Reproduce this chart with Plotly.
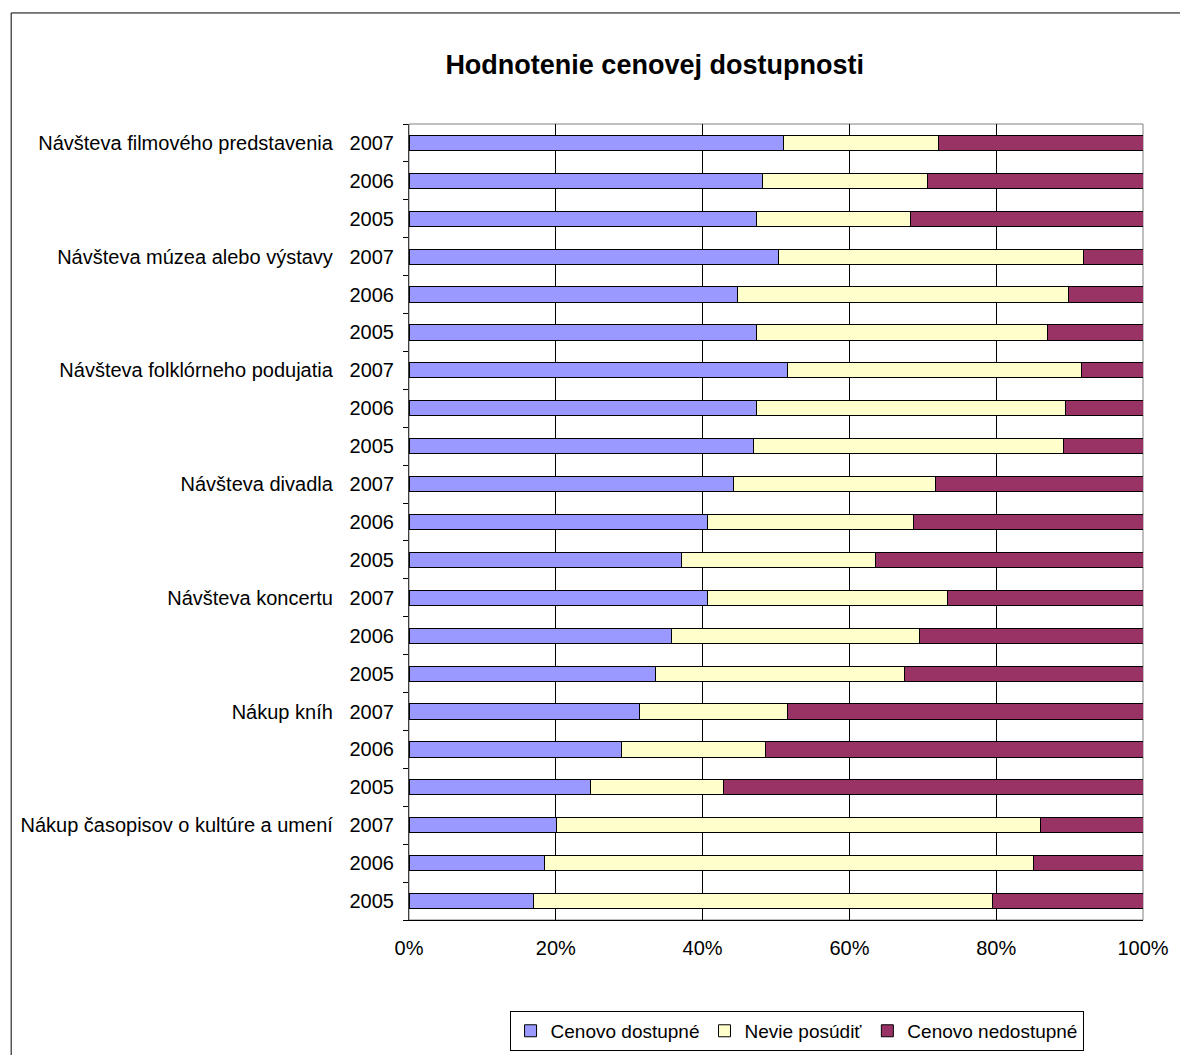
import plotly.graph_objects as go

# categories (top to bottom) and years shown per category
categories = [
    "Návšteva filmového predstavenia",
    "Návšteva múzea alebo výstavy",
    "Návšteva folklórneho podujatia",
    "Návšteva divadla",
    "Návšteva koncertu",
    "Nákup kníh",
    "Nákup časopisov o kultúre a umení",
]
years = ["2007", "2006", "2005"]

# shares in %, one value per row (category x year, top to bottom)
dostupne = [51.0, 48.1, 47.4, 50.3, 44.7, 47.4, 51.5, 47.4, 46.9,
            44.2, 40.7, 37.1, 40.7, 35.8, 33.6, 31.4, 29.0, 24.7,
            20.1, 18.4, 16.9]
nevie = [21.2, 22.6, 20.9, 41.6, 45.2, 39.6, 40.1, 42.0, 42.3,
         27.5, 28.1, 26.5, 32.7, 33.7, 33.9, 20.1, 19.6, 18.2,
         65.9, 66.7, 62.6]
nedostupne = [27.8, 29.3, 31.7, 8.1, 10.1, 13.0, 8.4, 10.6, 10.8,
              28.3, 31.2, 36.4, 26.6, 30.5, 32.5, 48.5, 51.4, 57.1,
              14.0, 14.9, 20.5]

x_ticks = [0, 20, 40, 60, 80, 100]
x_labels = ["0%", "20%", "40%", "60%", "80%", "100%"]

series = [
    ("Cenovo dostupné", dostupne, "#9999FF"),
    ("Nevie posúdiť", nevie, "#FFFFCC"),
    ("Cenovo nedostupné", nedostupne, "#993366"),
]

# unique category keys for the y axis and the text shown for them
row_keys = []
row_text = []
for c in categories:
    for y in years:
        row_keys.append(f"{c}|{y}")
        if y == "2007":
            row_text.append(c + "\u00a0\u00a0\u00a0" + y)
        else:
            row_text.append(y)

FONT = "Liberation Sans, Arial, sans-serif"

fig = go.Figure()
for name, vals, color in series:
    fig.add_trace(go.Bar(
        y=row_keys,
        x=vals,
        name=name,
        orientation="h",
        marker=dict(color=color, line=dict(color="black", width=1)),
    ))

# page has an 8px body margin, so the figure is 8px smaller each way
fig.update_layout(
    width=1180,
    height=1047,
    barmode="stack",
    bargap=0.6,
    paper_bgcolor="white",
    plot_bgcolor="white",
    margin=dict(l=399, r=45, t=116, b=135),
    font=dict(family=FONT, size=20, color="black"),
    title=dict(
        text="<b>Hodnotenie cenovej dostupnosti</b>",
        font=dict(family=FONT, size=27, color="black"),
        x=0.548, xref="container", xanchor="center",
        y=0.9456, yref="container", yanchor="middle",
    ),
    legend=dict(
        orientation="h",
        x=0.528, xanchor="center",
        y=0.0421, yref="container", yanchor="top",
        bordercolor="black",
        borderwidth=1,
        font=dict(family=FONT, size=19),
        itemwidth=30,
        traceorder="normal",
    ),
    xaxis=dict(
        range=[0, 100],
        tickvals=x_ticks,
        ticktext=x_labels,
        showgrid=True,
        gridcolor="black",
        gridwidth=1,
        showline=True,
        linecolor="black",
        linewidth=1,
        ticks="",
        ticklabelstandoff=10,
        zeroline=False,
    ),
    yaxis=dict(
        type="category",
        categoryorder="array",
        categoryarray=row_keys,
        autorange="reversed",
        tickvals=row_keys,
        ticktext=row_text,
        tickson="boundaries",
        ticks="outside",
        ticklen=5,
        tickcolor="black",
        showline=True,
        linecolor="#404040",
        linewidth=1,
        showgrid=False,
        ticklabelstandoff=10,
    ),
    shapes=[
        # plot area frame
        dict(type="rect", xref="paper", yref="paper", x0=0, x1=1, y0=0, y1=1,
             line=dict(color="#808080", width=1), layer="below"),
        # outer chart frame
        dict(type="rect", xref="paper", yref="paper", x0=-0.542, x1=1.2,
             y0=-0.3, y1=1.1395, line=dict(color="black", width=1)),
    ],
)

fig.write_html("out.html")
